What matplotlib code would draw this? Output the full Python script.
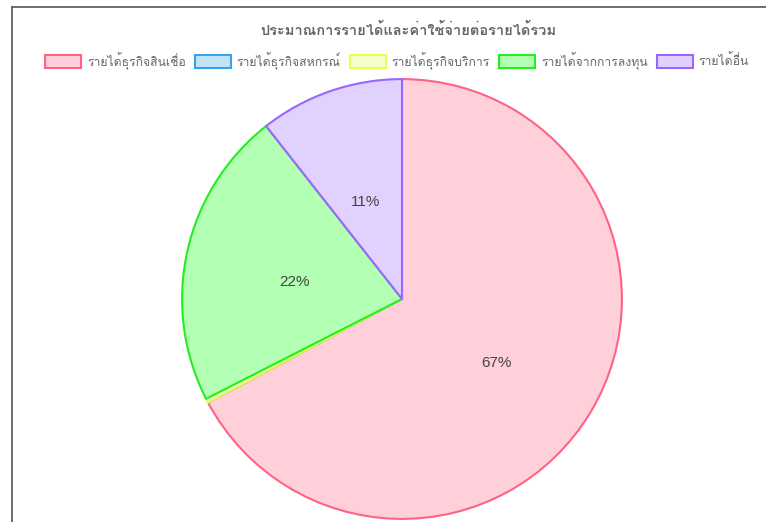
import matplotlib
matplotlib.use('Agg')
import matplotlib.pyplot as plt
from matplotlib import font_manager
from matplotlib.patches import Rectangle
from matplotlib.transforms import ScaledTranslation
from fontTools.ttLib import TTFont

# data
labels = ['รายได้ธุรกิจสินเชื่อ', 'รายได้ธุรกิจสหกรณ์', 'รายได้ธุรกิจบริการ', 'รายได้จากการลงทุน', 'รายได้อื่น']
values = [67.2, 0.0, 0.3, 21.9, 10.6]
title = 'ประมาณการรายได้และค่าใช้จ่ายต่อรายได้รวม'

fills = ['#FFD0DA', '#C3E3F9', '#F6FFCC', '#B3FFB3', '#E0D1FF']
edges = ['#FF6384', '#36A2EB', '#E6FF55', '#22EE22', '#9966FF']

# look for an installed font that has Thai glyphs
thai_fonts = []
for f in font_manager.fontManager.ttflist:
    try:
        cmap = TTFont(f.fname, fontNumber=0, lazy=True).getBestCmap()
        if cmap and 0x0E23 in cmap and f.name not in thai_fonts:
            thai_fonts.append(f.name)
    except Exception:
        pass
families = thai_fonts + ['DejaVu Sans']
plt.rcParams['font.family'] = families

W, H = 766, 522
fig = plt.figure(figsize=(W / 100, H / 100), dpi=100)

# outer frame (top and left edges visible)
fig.add_artist(plt.Line2D([12 / W, 12 / W], [0, 1 - 7 / H], color='#555555', lw=1.2))
fig.add_artist(plt.Line2D([12 / W, 1], [1 - 7 / H, 1 - 7 / H], color='#555555', lw=1.2))

cx, cy, r = 402, 299, 221
ax = fig.add_axes([(cx - r) / W, (H - cy - r) / H, 2 * r / W, 2 * r / H])


def pct(p):
    return f'{p:.0f}%' if p >= 1 else ''


wedges, texts, autotexts = ax.pie(
    values, colors=fills, startangle=90, counterclock=False,
    autopct=pct, pctdistance=0.5, radius=1,
    wedgeprops=dict(linewidth=1.5),
    textprops=dict(fontsize=11, color='#444444', family=['Liberation Sans', 'DejaVu Sans']))
for w, ec in zip(wedges, edges):
    w.set_edgecolor(ec)
shift = ScaledTranslation(0, -7 / 100, fig.dpi_scale_trans)
for t in autotexts:
    t.set_transform(t.get_transform() + shift)
ax.set_xlim(-1.005, 1.005)
ax.set_ylim(-1.005, 1.005)
ax.set_aspect('equal')
ax.axis('off')

fig.text(408 / W, 1 - 30 / H, title, ha='center', va='center',
         fontsize=10.5, fontweight='bold', color='#666666')

# legend laid out like the reference, one row
fig.canvas.draw()
renderer = fig.canvas.get_renderer()
box_w, box_h, gap1, gap2 = 36, 13, 6, 9
items = []
total = 0
for lab in labels:
    t = fig.text(0, 0, lab, fontsize=8.8, color='#666666', va='center')
    tw = t.get_window_extent(renderer).width
    items.append((t, tw))
    total += box_w + gap1 + tw
total += gap2 * (len(labels) - 1)
x = 397 - total / 2
ly = 61
for (t, tw), fc, ec in zip(items, fills, edges):
    fig.add_artist(Rectangle((x / W, 1 - (ly + box_h / 2) / H), box_w / W, box_h / H,
                             facecolor=fc, edgecolor=ec, lw=1.5, transform=fig.transFigure))
    t.set_position(((x + box_w + gap1) / W, 1 - ly / H))
    x += box_w + gap1 + tw + gap2

fig.savefig('out.png', dpi=100)
